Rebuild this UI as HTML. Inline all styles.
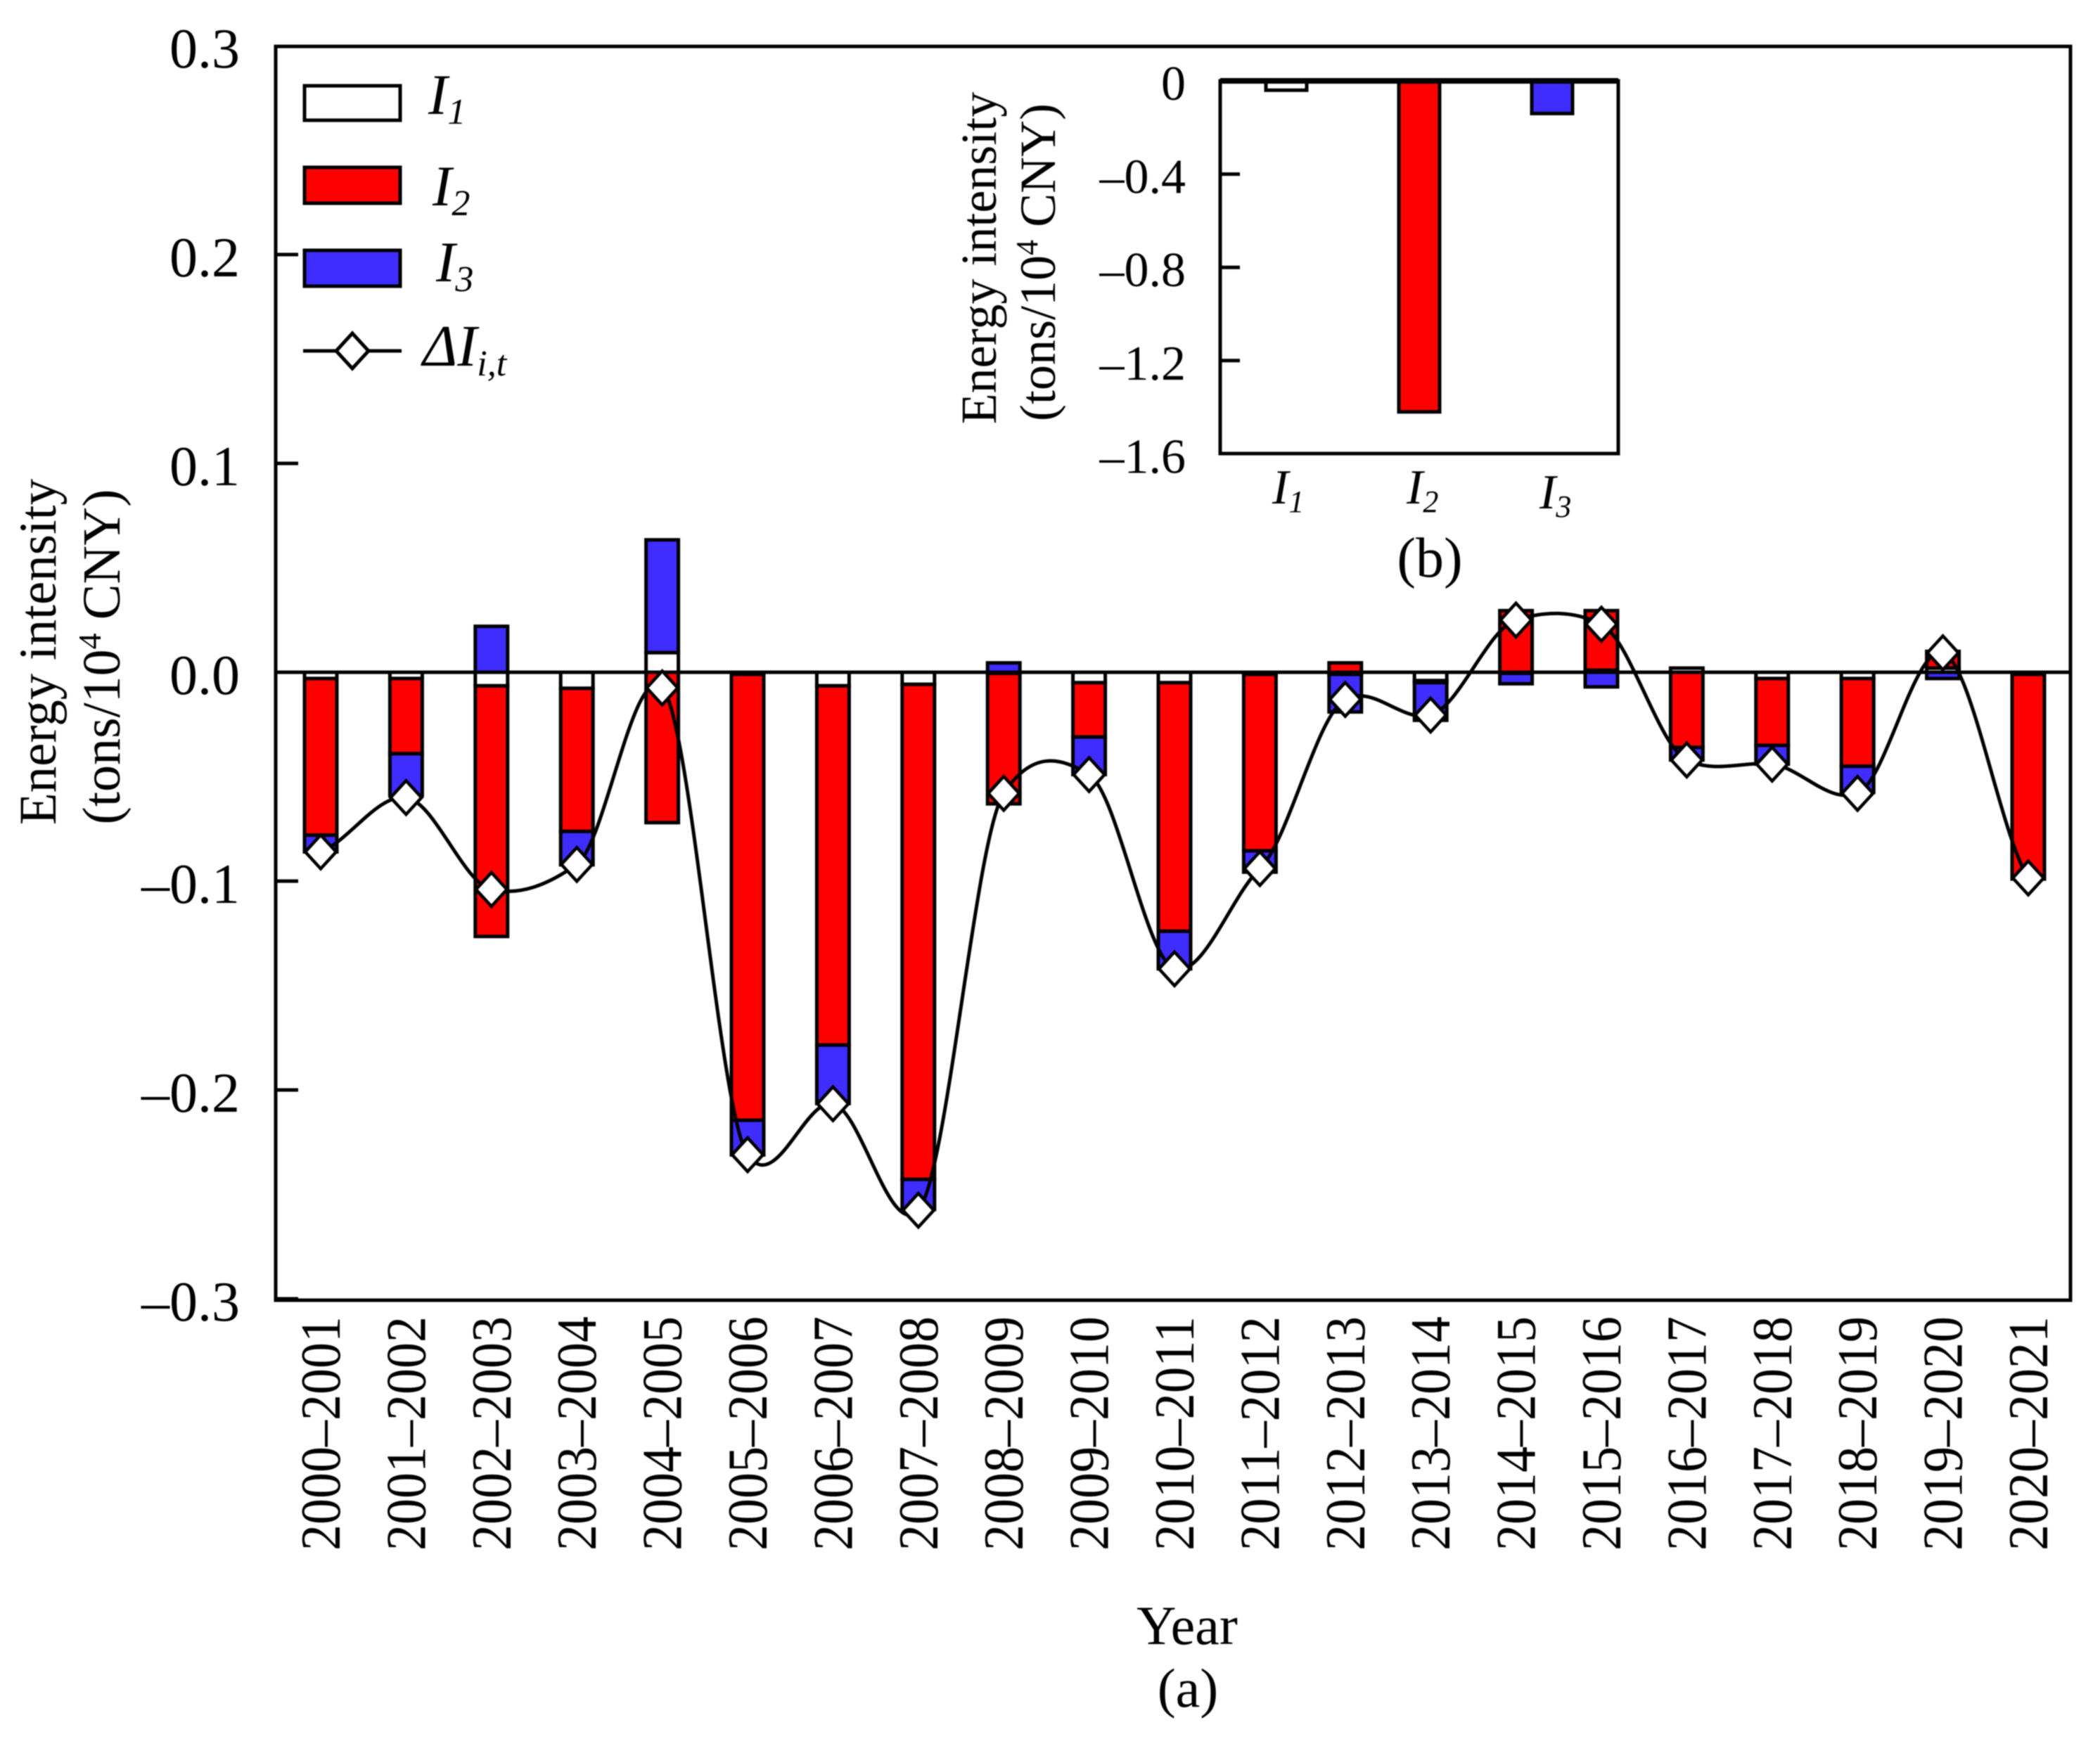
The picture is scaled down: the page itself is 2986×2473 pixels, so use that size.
<!DOCTYPE html>
<html lang="en">
<head>
<meta charset="utf-8">
<title>Energy intensity decomposition chart</title>
<style>
html,body{margin:0;padding:0;background:#fff;}
svg{display:block;filter:blur(0.7px);}
text{font-family:"Liberation Serif",serif;fill:#000;}
</style>
</head>
<body>
<svg id="chart" xmlns="http://www.w3.org/2000/svg" width="2986" height="2473" viewBox="0 0 2986 2473">
  <rect x="0" y="0" width="2986" height="2473" fill="#fff"/>
  <g id="main-bars"></g>
  <g id="main-axes"></g>
  <g id="main-line"></g>

  <g>
    <text transform="translate(79,927) rotate(-90)" text-anchor="middle" font-size="75">Energy intensity</text>
    <text transform="translate(170,934) rotate(-90)" text-anchor="middle" font-size="76">(tons/10<tspan font-size="46" dy="-27">4</tspan><tspan dy="27"> CNY)</tspan></text>
  </g>
  <text x="1688" y="2338" text-anchor="middle" font-size="78">Year</text>
  <text x="1689" y="2427" text-anchor="middle" font-size="78">(a)</text>

  <g>
    <g>
      <rect x="433" y="122" width="136" height="49" fill="#fff" stroke="#000" stroke-width="5"/>
      <text x="609" y="162" font-size="82" font-style="italic">I<tspan font-size="52" dy="14">1</tspan></text>
    </g>
    <g>
      <rect x="433" y="238" width="136" height="51" fill="#ff0000" stroke="#000" stroke-width="5"/>
      <text x="615" y="292" font-size="82" font-style="italic">I<tspan font-size="52" dy="14">2</tspan></text>
    </g>
    <g>
      <rect x="433" y="356" width="136" height="51" fill="#3f2cff" stroke="#000" stroke-width="5"/>
      <text x="620" y="400" font-size="82" font-style="italic">I<tspan font-size="52" dy="14">3</tspan></text>
    </g>
    <g>
      <line x1="431" y1="499" x2="571" y2="499" stroke="#000" stroke-width="5"/>
      <polygon points="501,474 524,499 501,524 478,499" fill="#fff" stroke="#000" stroke-width="5"/>
      <text x="601" y="520" font-size="84" font-style="italic">ΔI<tspan font-size="52" dy="14">i,t</tspan></text>
    </g>
  </g>

  <g id="inset-bars"></g>
  <g id="inset-axes"></g>
  <g>
    <text transform="translate(1416,367) rotate(-90)" text-anchor="middle" font-size="72">Energy intensity</text>
    <text transform="translate(1500,373) rotate(-90)" text-anchor="middle" font-size="72">(tons/10<tspan font-size="44" dy="-25">4</tspan><tspan dy="25"> CNY)</tspan></text>
  </g>
  <text x="2033" y="820" text-anchor="middle" font-size="80">(b)</text>
</svg>
<script>
const categories = ["2000–2001","2001–2002","2002–2003","2003–2004","2004–2005","2005–2006","2006–2007","2007–2008","2008–2009","2009–2010","2010–2011","2011–2012","2012–2013","2013–2014","2014–2015","2015–2016","2016–2017","2017–2018","2018–2019","2019–2020","2020–2021"];
const seriesI1 = [-0.003,-0.003,-0.0065,-0.0077,0.0094,-0.001,-0.0065,-0.0058,-0.0005,-0.005,-0.005,-0.001,-0.001,-0.004,-0.0005,0.001,0.002,-0.003,-0.003,0.002,-0.001];
const seriesI2 = [-0.075,-0.036,-0.12,-0.0685,-0.072,-0.2135,-0.172,-0.237,-0.0625,-0.026,-0.119,-0.0845,0.0045,-0.001,0.0295,0.0285,-0.036,-0.032,-0.042,0.008,-0.0975];
const seriesI3 = [-0.008,-0.02,0.022,-0.016,0.054,-0.0166,-0.028,-0.0144,0.0045,-0.018,-0.018,-0.0102,-0.018,-0.018,-0.005,-0.007,-0.006,-0.009,-0.0125,-0.003,-0.0005];
const seriesDelta = [-0.086,-0.06,-0.104,-0.092,-0.0075,-0.231,-0.2066,-0.2576,-0.058,-0.049,-0.142,-0.094,-0.013,-0.0205,0.025,0.023,-0.042,-0.044,-0.058,0.0093,-0.0985];
const yTickValues = [0.3,0.2,0.1,0,-0.1,-0.2,-0.3];
const yTickLabels = ["0.3","0.2","0.1","0.0","–0.1","–0.2","–0.3"];
const insetCategories = ["1","2","3"];
const insetValues = [-0.04,-1.42,-0.14];
const insetTickValues = [0,-0.4,-0.8,-1.2,-1.6];
const insetTickLabels = ["0","–0.4","–0.8","–1.2","–1.6"];

const NS = "http://www.w3.org/2000/svg";
const RED = "#ff0000", BLUE = "#3f2cff";

function make(tag, attrs, parent) {
  const el = document.createElementNS(NS, tag);
  for (const k in attrs) el.setAttribute(k, attrs[k]);
  parent.appendChild(el);
  return el;
}

/* main axis functions */
function xMain(i) { return 456 + 121.4 * i; }
function yMain(v) { return 956 - 2970 * v; }

/* inset axis functions */
function xInset(i) { return 1829 + 189 * i; }
function yInset(v) { return 115 - 331.5 * v; }

const mainBars = document.getElementById("main-bars");
const mainAxes = document.getElementById("main-axes");
const mainLine = document.getElementById("main-line");
const insetBars = document.getElementById("inset-bars");
const insetAxes = document.getElementById("inset-axes");

/* stacked bars */
const stacks = [
  { key: "i1", values: seriesI1, fill: "#fff" },
  { key: "i2", values: seriesI2, fill: RED },
  { key: "i3", values: seriesI3, fill: BLUE }
];
categories.forEach(function (cat, i) {
  let pos = 0, neg = 0;
  stacks.forEach(function (s) {
    const v = s.values[i];
    const start = v >= 0 ? pos : neg;
    const end = start + v;
    if (v >= 0) pos = end; else neg = end;
    const y1 = yMain(Math.max(start, end));
    const y2 = yMain(Math.min(start, end));
    const r = make("rect", { x: xMain(i) - 23, y: y1, width: 46, height: Math.max(y2 - y1, 0.5), fill: s.fill, stroke: "#000", "stroke-width": 5 }, mainBars);
    
    
  });
  const t = make("text", { "font-size": 81, textLength: 333, lengthAdjust: "spacingAndGlyphs", "text-anchor": "start", transform: "translate(" + (xMain(i) + 27) + ",2205) rotate(-90)" }, mainAxes);
  t.textContent = cat;
  
  
});

/* main frame, zero line, ticks */
const frame = make("rect", { x: 392, y: 66, width: 2552, height: 1783, fill: "none", stroke: "#000", "stroke-width": 5 }, mainAxes);


const zeroLine = make("line", { x1: 392, x2: 2944, y1: yMain(0), y2: yMain(0), stroke: "#000", "stroke-width": 5 }, mainAxes);


yTickValues.forEach(function (v, i) {
  const y = yMain(v);
  if (i > 0) {
    const tick = make("line", { x1: 392, x2: 424, y1: y, y2: y, stroke: "#000", "stroke-width": 5 }, mainAxes);
    
    
  }
  const lab = make("text", { x: 341, y: y + 31, "text-anchor": "end", "font-size": 80 }, mainAxes);
  lab.textContent = yTickLabels[i];
  
  
});

/* cardinal (tensioned) spline through the delta series */
const last = seriesDelta.length - 1;
function tangent(i) {
  const a = seriesDelta[Math.max(i - 1, 0)], b = seriesDelta[Math.min(i + 1, last)];
  return 0.6 * (b - a) / (i === 0 || i === last ? 1 : 2);
}
let pathD = "M" + xMain(0) + " " + yMain(seriesDelta[0]);
for (let i = 0; i < last; i++) {
  pathD += "C" + xMain(i + 1 / 3).toFixed(1) + " " + yMain(seriesDelta[i] + tangent(i) / 3).toFixed(1) +
           " " + xMain(i + 2 / 3).toFixed(1) + " " + yMain(seriesDelta[i + 1] - tangent(i + 1) / 3).toFixed(1) +
           " " + xMain(i + 1).toFixed(1) + " " + yMain(seriesDelta[i + 1]).toFixed(1);
}
const curve = make("path", { d: pathD, fill: "none", stroke: "#000", "stroke-width": 5, "stroke-linejoin": "round" }, mainLine);


seriesDelta.forEach(function (v, i) {
  const cx = xMain(i), cy = yMain(v);
  const pts = cx + "," + (cy - 24) + " " + (cx + 22) + "," + cy + " " + cx + "," + (cy + 24) + " " + (cx - 22) + "," + cy;
  const mk = make("polygon", { points: pts, fill: "#fff", stroke: "#000", "stroke-width": 4.5 }, mainLine);
  
  
});

/* inset bars */
const insetFills = ["#fff", RED, BLUE];
insetValues.forEach(function (v, i) {
  const y1 = yInset(0), y2 = yInset(v);
  const r = make("rect", { x: xInset(i) - 29, y: y1, width: 58, height: y2 - y1, fill: insetFills[i], stroke: "#000", "stroke-width": 5 }, insetBars);
  
  
  const t = make("text", { x: xInset(i) - 20 + (i === 0 ? 0 : 2), y: i === 2 ? 723 : 716, "font-size": 70, "font-style": "italic" }, insetAxes);
  t.textContent = "I";
  
  
  const sub = make("tspan", { dy: 12, "font-size": 44 }, t);
  sub.textContent = insetCategories[i];
  
  
});
const insetFrame = make("rect", { x: 1735, y: 115, width: 566, height: 530, fill: "none", stroke: "#000", "stroke-width": 5 }, insetAxes);


const insetTop = make("line", { x1: 1735, x2: 2301, y1: yInset(0), y2: yInset(0), stroke: "#000", "stroke-width": 8 }, insetAxes);


insetTickValues.forEach(function (v, i) {
  const y = yInset(v);
  if (i > 0 && i < insetTickValues.length - 1) {
    const tick = make("line", { x1: 1735, x2: 1763, y1: y, y2: y, stroke: "#000", "stroke-width": 5 }, insetAxes);
    
    
  }
  const lab = make("text", { x: 1686, y: y + 27, "text-anchor": "end", "font-size": 70 }, insetAxes);
  lab.textContent = insetTickLabels[i];
  
  
});
</script>
</body>
</html>
